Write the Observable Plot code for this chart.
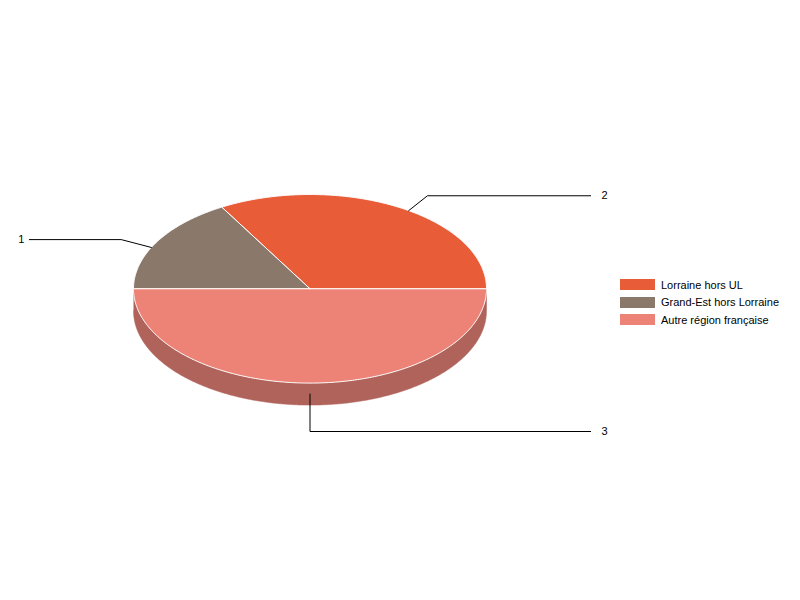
<!DOCTYPE html>
<html><head><meta charset="utf-8">
<script src="https://cdn.jsdelivr.net/npm/d3@7"></script>
<script src="https://cdn.jsdelivr.net/npm/@observablehq/plot@0.6"></script>
<style>
body{margin:0;background:#fff;font-family:"Liberation Sans",Arial,sans-serif;}
#wrap{position:relative;width:800px;height:600px;}
#legend{position:absolute;left:620px;top:276px;font-size:11px;color:#000;}
.row{display:flex;align-items:center;height:17.5px;}
.sw{width:35px;height:11px;margin-right:6px;}
</style></head>
<body><div id="wrap"><div id="chart"></div><div id="legend"></div></div>
<script>
const categories = ["Lorraine hors UL","Grand-Est hors Lorraine","Autre région française"];
const values = [2, 1, 3];
const labels = ["2", "1", "3"];
const colors = ["#E85C38", "#8A786B", "#ED8276"];
const sideColor = "#B0635A";

// layout
const W = 800, H = 600;
const cx = 309.5, cy = 288.3, rx = 176.5, ry = 94.3;
const depth = 22 / ry;
const total = d3.sum(values);

// slices
const slices = [];
let cum = 0;
values.forEach((v, i) => {
  const t0 = 2 * Math.PI * cum / total;
  cum += v;
  const t1 = 2 * Math.PI * cum / total;
  slices.push({i, t0, t1, mid: (t0 + t1) / 2});
});

function arcPts(t0, t1, dy = 0) {
  const n = Math.max(8, Math.ceil((t1 - t0) / 0.01));
  const pts = [];
  for (let k = 0; k <= n; k++) {
    const t = t0 + (t1 - t0) * k / n;
    pts.push({x: Math.cos(t), y: Math.sin(t) + dy});
  }
  return pts;
}

// front side (visible from 180° to 360°)
const sidePts = [...arcPts(Math.PI, 2 * Math.PI), ...arcPts(Math.PI, 2 * Math.PI, -depth).reverse()];

const marks = [];
marks.push(Plot.line(sidePts, {x: "x", y: "y", fill: sideColor, stroke: sideColor, strokeWidth: 0.5}));
slices.forEach(s => {
  const pts = [{x: 0, y: 0}, ...arcPts(s.t0, s.t1), {x: 0, y: 0}];
  marks.push(Plot.line(pts, {x: "x", y: "y", fill: colors[s.i], stroke: "#fff", strokeWidth: 1}));
});

// leader lines + labels
const leaders = [];
const texts = [];
const labelX = 1.59;
const tilt = 4 * Math.PI / 180;
slices.forEach(s => {
  const c0 = Math.cos(s.mid), s0 = Math.sin(s.mid);
  const right = c0 >= -1e-9;
  let start, elbow;
  if (s0 < -0.5) {
    start = {x: c0, y: s0 - depth / 2};
    elbow = {x: c0, y: s0 * 1.28 - depth};
  } else {
    // tilt the leader slightly toward the horizontal
    const a = s.mid + (right ? -tilt : tilt);
    const c = Math.cos(a), sn = Math.sin(a);
    start = {x: c * 1.0, y: sn * 1.0};
    elbow = {x: c * 1.19, y: sn * 1.19};
  }
  const end = {x: right ? labelX : -labelX, y: elbow.y};
  [start, elbow, end].forEach(p => leaders.push({id: s.i, ...p}));
  texts.push({x: right ? labelX + 0.062 : -labelX - 0.028, y: elbow.y, text: labels[s.i], anchor: right ? "start" : "end"});
});
marks.push(Plot.line(leaders, {x: "x", y: "y", z: "id", stroke: "#000", strokeWidth: 1}));
marks.push(Plot.text(texts.filter(d => d.anchor === "start"), {x: "x", y: "y", text: "text", textAnchor: "start", fontSize: 11, fill: "#000"}));
marks.push(Plot.text(texts.filter(d => d.anchor === "end"), {x: "x", y: "y", text: "text", textAnchor: "end", fontSize: 11, fill: "#000"}));

const chart = Plot.plot({
  width: W, height: H, margin: 0,
  style: {fontFamily: "'Liberation Sans', Arial, sans-serif", background: "#fff"},
  x: {type: "linear", domain: [-cx / rx, (W - cx) / rx], range: [0, W], axis: null},
  y: {type: "linear", domain: [(cy - H) / ry, cy / ry], range: [H, 0], axis: null},
  marks
});
document.getElementById("chart").append(chart);

const legend = document.getElementById("legend");
categories.forEach((c, i) => {
  const row = document.createElement("div");
  row.className = "row";
  row.innerHTML = `<div class="sw" style="background:${colors[i]}"></div><span>${c}</span>`;
  legend.append(row);
});
</script></body></html>
